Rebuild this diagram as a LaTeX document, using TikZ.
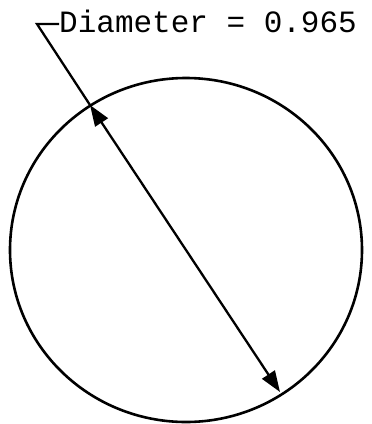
\documentclass[tikz,border=0pt]{standalone}
\usepackage{fontspec}
\setmonofont{Liberation Mono}
\usetikzlibrary{arrows.meta}
\tikzset{
  rim/.style={line width=2.6pt},
  dimline/.style={line width=2.3pt,{Triangle[length=21pt,width=15pt]}-{Triangle[length=21pt,width=15pt]}},
  leader/.style={line width=2.3pt},
  dimtext/.style={font=\ttfamily\fontsize{31}{34}\selectfont,inner sep=0pt,anchor=base west}
}
\begin{document}
\begin{tikzpicture}[x=1pt,y=-1pt]
    \useasboundingbox (0,0) rectangle (372,424);
    \draw[rim] (186,250) ellipse [x radius=176pt,y radius=172pt];
    \coordinate (tipa) at (90,105);
    \coordinate (tipb) at (280,392);
    \coordinate (knee) at (37,24);
    \node[dimtext] (diam) at (59,32) {Diameter = 0.965};
    \draw[dimline] (tipa) -- (tipb);
    \draw[leader] (tipa) -- (knee) -- (diam.west |- knee);
  \end{tikzpicture}
\end{document}
